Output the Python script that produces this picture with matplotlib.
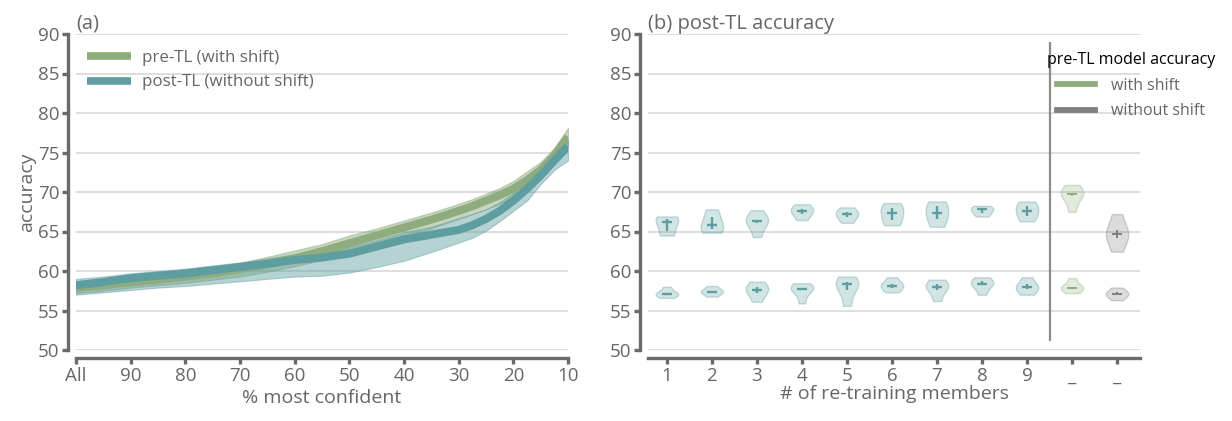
import matplotlib
matplotlib.use("Agg")
import matplotlib.pyplot as plt
from matplotlib.lines import Line2D
import numpy as np

# ---------------- data: panel (a) ----------------
pct_confident = [100, 95, 90, 85, 80, 75, 70, 65, 60, 55, 50, 45, 40, 35, 30, 27.5, 25, 22.5, 20, 17.5, 15, 12.5, 10]
pre_mean = [57.9, 58.2, 58.6, 58.9, 59.3, 59.7, 60.2, 60.9, 61.6, 62.5, 63.5, 64.5, 65.5, 66.5, 67.6, 68.2, 68.9, 69.6, 70.4, 71.5, 72.8, 74.6, 77.0]
pre_lo = [57.2, 57.5, 57.9, 58.2, 58.5, 58.9, 59.3, 59.9, 60.6, 61.4, 62.4, 63.4, 64.4, 65.4, 66.6, 67.2, 67.8, 68.5, 69.3, 70.4, 71.8, 73.5, 75.8]
pre_hi = [58.7, 59.0, 59.4, 59.7, 60.1, 60.5, 61.0, 61.8, 62.6, 63.4, 64.5, 65.4, 66.4, 67.4, 68.5, 69.1, 69.8, 70.5, 71.4, 72.6, 73.8, 75.6, 78.1]
post_mean = [58.2, 58.6, 59.1, 59.4, 59.7, 60.1, 60.5, 60.9, 61.4, 61.7, 62.2, 63.1, 64.0, 64.6, 65.2, 65.8, 66.6, 67.6, 68.9, 70.4, 72.1, 74.0, 75.8]
post_lo = [57.0, 57.3, 57.6, 57.9, 58.1, 58.4, 58.7, 59.0, 59.3, 59.4, 59.8, 60.5, 61.3, 62.4, 63.6, 64.2, 65.1, 66.3, 67.6, 68.9, 71.0, 72.8, 74.0]
post_hi = [59.0, 59.3, 59.7, 60.0, 60.3, 60.7, 61.1, 61.6, 62.1, 62.5, 63.0, 63.9, 64.9, 65.6, 66.7, 67.2, 67.8, 68.7, 69.9, 71.3, 72.9, 74.8, 76.6]
x_ticks_a = [100, 90, 80, 70, 60, 50, 40, 30, 20, 10]
x_ticklabels_a = ["All", "90", "80", "70", "60", "50", "40", "30", "20", "10"]

# ---------------- data: panel (b) ----------------
members = [1, 2, 3, 4, 5, 6, 7, 8, 9]
post_upper = [
    [64.5, 65.1, 66.25, 66.55, 66.9],
    [64.85, 65.3, 65.8, 66.8, 67.8],
    [64.3, 66.1, 66.3, 66.5, 67.7],
    [66.45, 67.2, 67.65, 67.9, 68.45],
    [66.1, 66.8, 67.2, 67.5, 68.05],
    [65.8, 66.5, 67.35, 68.0, 68.6],
    [65.6, 66.6, 67.35, 68.2, 68.8],
    [66.9, 67.3, 67.85, 67.85, 68.25],
    [66.3, 67.0, 67.65, 68.2, 68.8],
]
post_lower = [
    [56.6, 57.0, 57.1, 57.25, 58.0],
    [56.75, 57.3, 57.4, 57.5, 58.1],
    [56.1, 57.2, 57.6, 58.0, 58.65],
    [55.9, 57.6, 57.75, 57.85, 58.45],
    [55.6, 57.6, 58.3, 58.6, 59.3],
    [57.3, 57.9, 58.15, 58.4, 59.2],
    [56.2, 57.6, 58.0, 58.3, 58.9],
    [57.0, 58.2, 58.3, 58.7, 59.2],
    [57.0, 57.7, 57.95, 58.3, 59.2],
]
pre_with_shift = [[67.5, 69.5, 69.7, 69.9, 70.9], [57.2, 57.8, 57.9, 58.0, 59.1]]
pre_without_shift = [[62.45, 64.2, 64.7, 65.2, 67.2], [56.3, 56.9, 57.1, 57.3, 57.9]]
x_ticklabels_b = ["1", "2", "3", "4", "5", "6", "7", "8", "9", "_", "_"]

# ---------------- style ----------------
GREEN = "#8fac7f"
TEAL = "#5f9ea0"
GRAY = "#808080"
SPINE = "#6a6a6a"
TXT = "#666666"
GRID = "#d4d4d4"

plt.rcParams["font.family"] = ["Open Sans", "DejaVu Sans"]
plt.rcParams["font.size"] = 12

fig = plt.figure(figsize=(12.32, 4.21), dpi=100)
W, H = 1232, 421
ax1 = fig.add_axes([76 / W, 1 - 350 / H, 492 / W, 316 / H])
ax2 = fig.add_axes([648 / W, 1 - 350 / H, 492 / W, 316 / H])

FS = 14
TFS = 13.5


def style(ax):
    for s in ["top", "right"]:
        ax.spines[s].set_visible(False)
    for s in ["left", "bottom"]:
        ax.spines[s].set_position(("outward", 6))
        ax.spines[s].set_color(SPINE)
        ax.spines[s].set_linewidth(2.4)
    ax.tick_params(axis="both", colors=SPINE, width=2.4, length=4, labelsize=TFS,
                   labelcolor=TXT, pad=2)
    ax.set_ylim(50, 90)
    ax.set_yticks([50, 55, 60, 65, 70, 75, 80, 85, 90])
    ax.yaxis.grid(True, color=GRID, lw=1.1)
    ax.set_axisbelow(True)


# ---------------- panel (a) ----------------
style(ax1)
ax1.fill_between(pct_confident, pre_lo, pre_hi, color=GREEN, alpha=0.5, lw=0.8,
                 edgecolor=GREEN)
ax1.fill_between(pct_confident, post_lo, post_hi, color=TEAL, alpha=0.45, lw=0.8,
                 edgecolor=TEAL)
ax1.plot(pct_confident, pre_mean, color=GREEN, lw=5.8, solid_capstyle="butt",
         solid_joinstyle="round", label="pre-TL (with shift)")
ax1.plot(pct_confident, post_mean, color=TEAL, lw=5.8, solid_capstyle="butt",
         solid_joinstyle="round", label="post-TL (without shift)")
ax1.set_xlim(100, 10)
ax1.set_xticks(x_ticks_a)
ax1.set_xticklabels(x_ticklabels_a)
ax1.set_xlabel("% most confident", color=TXT, fontsize=FS, labelpad=3)
ax1.set_ylabel("accuracy", color=TXT, fontsize=FS, labelpad=1)
ax1.set_title("(a)", loc="left", color=TXT, fontsize=FS + 0.5, pad=3)
leg1 = ax1.legend(loc="upper left", bbox_to_anchor=(87 / W, 1 - 50 / H),
                  bbox_transform=fig.transFigure, frameon=False, fontsize=12.2,
                  handlelength=2.6, handletextpad=0.65, labelspacing=0.5,
                  borderpad=0, borderaxespad=0)
for t in leg1.get_texts():
    t.set_color(TXT)
for l in leg1.get_lines():
    l.set_linewidth(5.5)

# ---------------- panel (b) ----------------
style(ax2)


def draw_violins(datasets, positions, color, fill_alpha, edge_alpha, mark_lw):
    parts = ax2.violinplot(datasets, positions=positions, widths=0.5, points=14,
                           showextrema=False)
    for b in parts["bodies"]:
        b.set_alpha(None)
        b.set_facecolor(matplotlib.colors.to_rgba(color, fill_alpha))
        b.set_edgecolor(matplotlib.colors.to_rgba(color, edge_alpha))
        b.set_linewidth(1.0)
    for p, d in zip(positions, datasets):
        q1, med, q3 = np.percentile(d, [25, 50, 75])
        ax2.vlines(p, q1, q3, color=color, lw=mark_lw)
        ax2.hlines(med, p - 0.11, p + 0.11, color=color, lw=mark_lw)


draw_violins(post_upper, members, TEAL, 0.27, 0.35, 1.7)
draw_violins(post_lower, members, TEAL, 0.27, 0.35, 1.7)
draw_violins(pre_with_shift, [10, 10], GREEN, 0.25, 0.35, 1.4)
draw_violins(pre_without_shift, [11, 11], GRAY, 0.27, 0.35, 1.4)

ax2.vlines(9.5, 51.1, 89.0, color="#8c8c8c", lw=1.6)
ax2.set_xlim(0.58, 11.51)
ax2.set_xticks(range(1, 12))
ax2.set_xticklabels(x_ticklabels_b)
ax2.set_xlabel("# of re-training members", color=TXT, fontsize=FS, labelpad=0)
ax2.set_title("(b) post-TL accuracy", loc="left", color=TXT, fontsize=FS + 0.5, pad=3)

handles_b = [Line2D([], [], color=GREEN, lw=4.2), Line2D([], [], color=GRAY, lw=4.2)]
leg2 = ax2.legend(handles_b, ["with shift", "without shift"], title="pre-TL model accuracy",
                  loc="upper left", bbox_to_anchor=(1047 / W, 1 - 52 / H),
                  bbox_transform=fig.transFigure, frameon=False, fontsize=11.5,
                  title_fontsize=11.5, handlelength=2.4, handletextpad=1.0,
                  labelspacing=0.6, borderpad=0, borderaxespad=0)
for t in leg2.get_texts():
    t.set_color(TXT)
leg2.get_title().set_color("black")

fig.savefig("out.png", dpi=100)
